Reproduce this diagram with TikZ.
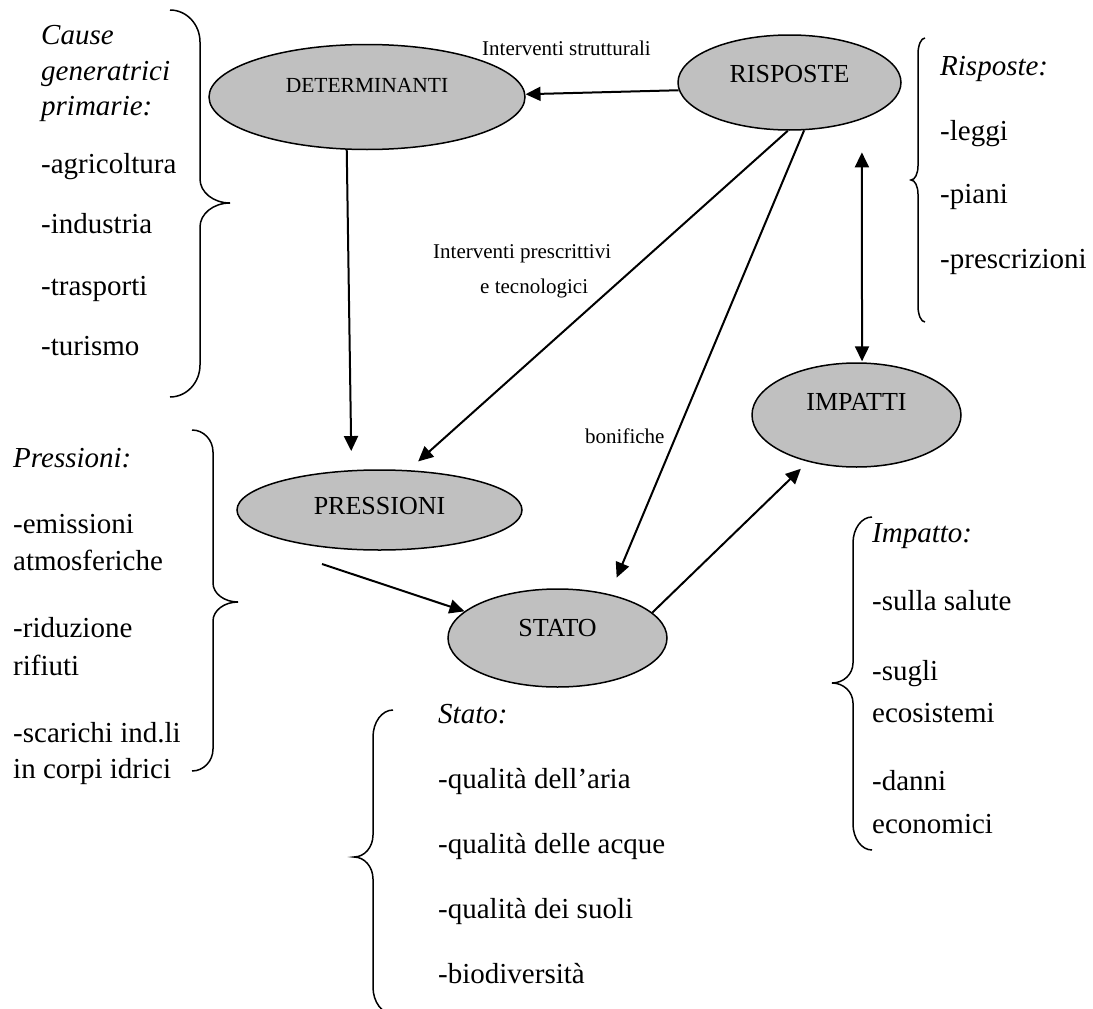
\documentclass[tikz,border=0pt]{standalone}
\usepackage{fontspec}
\setmainfont{Liberation Serif}
\usetikzlibrary{shapes.geometric,arrows.meta,calc}
\definecolor{ellgray}{HTML}{C0C0C0}

% curly brace: #1 end x, #2 spine x, #3 tip x, #4 top y, #5 tip y, #6 bottom y,
% #7 radius of the end hooks, #8 radius of the tip curves
\newcommand\curlybrace[8]{%
  \draw[bracestyle] (#1,#4)
    .. controls ({#1+0.552*(#2-#1)},#4) and (#2,{#4+0.448*#7}) .. (#2,{#4+#7})
    -- (#2,{#5-#8})
    .. controls (#2,{#5-0.448*#8}) and ({#3-0.552*(#3-#2)},#5) .. (#3,#5)
    .. controls ({#3-0.552*(#3-#2)},#5) and (#2,{#5+0.448*#8}) .. (#2,{#5+#8})
    -- (#2,{#6-#7})
    .. controls (#2,{#6-0.448*#7}) and ({#1+0.552*(#2-#1)},#6) .. (#1,#6);}

\begin{document}
\begin{tikzpicture}[x=1pt,y=-1pt,
  ell/.style={ellipse, draw, line width=1.5pt, fill=ellgray, inner sep=0pt},
  elltext/.style={font=\fontsize{26}{30}\selectfont, anchor=base, inner sep=0pt},
  smalltext/.style={font=\fontsize{21}{25}\selectfont, anchor=base west, inner sep=0pt},
  listtext/.style={font=\fontsize{29}{35}\selectfont, anchor=base west, inner sep=0pt},
  tip/.style={Triangle[length=15pt,width=14pt]},
  arr/.style={line width=2pt, -{Triangle[length=15pt,width=14pt]}},
  bracestyle/.style={line width=1.5pt}]

\useasboundingbox (0,0) rectangle (1093,1009);
\clip (0,0) rectangle (1093,1009);

% the five DPSIR components
\node[ell, minimum width=316pt, minimum height=105pt] (det)   at (367,97)     {};
\node[ell, minimum width=223pt, minimum height=95pt]  (risp)  at (789.5,82.5) {};
\node[ell, minimum width=285pt, minimum height=80pt]  (press) at (379.5,510)  {};
\node[ell, minimum width=219pt, minimum height=98pt]  (stato) at (557.5,638)  {};
\node[ell, minimum width=209pt, minimum height=104pt] (imp)   at (856.5,415)  {};

\node[elltext, font=\fontsize{21.5}{25}\selectfont] (detlab) at ([yshift=5pt]det.center) {DETERMINANTI};
\node[elltext] (risplab)  at (risp.center) {RISPOSTE};
\node[elltext] (presslab) at ([yshift=-4pt]press.center) {PRESSIONI};
\node[elltext] (statolab) at ([yshift=2pt]stato.center) {STATO};
\node[elltext] (implab)   at ([yshift=5pt]imp.center) {IMPATTI};

% connectors
\draw[arr] (risp.184) -- (det.1);
\draw[arr, shorten >=19pt] (det.249) -- (press.125);
\draw[arr, shorten >=13pt] (risp.268) -- (press.54);
\draw[arr, shorten >=18pt] (risp.287) -- (stato.40);
\coordinate (pressout) at (322,564);
\draw[arr] (pressout) -- (stato.164);
\draw[arr, shorten >=10pt] (stato.15) -- (imp.224);
\draw[line width=2pt, {Triangle[length=15pt,width=14pt]}-{Triangle[length=15pt,width=14pt]},
      shorten <=33pt, shorten >=1pt] (risp.333) -- (imp.84);

% connector labels
\node[smalltext] (lstrut) at (482,55)  {Interventi strutturali};
\node[smalltext] (lpres1) at (433,258) {Interventi prescrittivi};
\node[smalltext] (lpres2) at (480,293) {e tecnologici};
\node[smalltext] (lbon)   at (585,443) {bonifiche};

% braces
\curlybrace{170}{200}{230}{10}{203}{397}{32}{24}
\curlybrace{192}{213}{238}{430}{602}{771}{22}{19}
\curlybrace{925}{918}{911}{38}{180}{322}{16}{14}
\curlybrace{872}{853}{832}{517}{683}{850}{26}{20}
\curlybrace{393}{373}{354}{710}{857}{1014}{27}{22}

% text lists
\foreach \ty/\tx [count=\i] in {45/{\itshape Cause}, 80/{\itshape generatrici},
    115/{\itshape primarie:}, 173/-agricoltura, 233/-industria, 295/-trasporti, 355/-turismo}
  \node[listtext] (cause\i) at (41,\ty) {\tx};

\foreach \ty/\tx [count=\i] in {467/{\itshape Pressioni:}, 533/-emissioni, 570/atmosferiche,
    637/-riduzione, 675/rifiuti, 742/-scarichi ind.li, 778/in corpi idrici}
  \node[listtext] (pres\i) at (13,\ty) {\tx};

\foreach \ty/\tx [count=\i] in {75/{\itshape Risposte:}, 140/-leggi, 203/-piani, 268/-prescrizioni}
  \node[listtext] (risp\i) at (940,\ty) {\tx};

\foreach \ty/\tx [count=\i] in {542/{\itshape Impatto:}, 610/-sulla salute, 680/-sugli,
    722/ecosistemi, 790/-danni, 833/economici}
  \node[listtext] (imp\i) at (872,\ty) {\tx};

\foreach \ty/\tx [count=\i] in {723/{\itshape Stato:}, 788/-qualità dell’aria,
    853/-qualità delle acque, 918/-qualità dei suoli, 983/-biodiversità}
  \node[listtext] (stato\i) at (438,\ty) {\tx};

\end{tikzpicture}
\end{document}
